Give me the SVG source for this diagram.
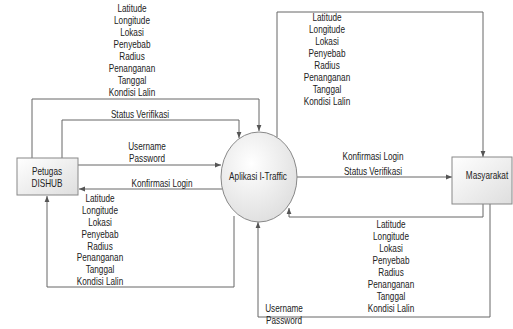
<svg xmlns="http://www.w3.org/2000/svg" width="513" height="329" viewBox="0 0 513 329">
<defs>
<linearGradient id="gbox" x1="0" y1="0" x2="1" y2="1">
<stop offset="0" stop-color="#ffffff"/>
<stop offset="1" stop-color="#dedede"/>
</linearGradient>
<radialGradient id="gell" cx="0.4" cy="0.35" r="0.75">
<stop offset="0" stop-color="#ffffff"/>
<stop offset="1" stop-color="#dcdcdc"/>
</radialGradient>
<marker id="arr" viewBox="0 0 10 10" refX="10" refY="5" markerWidth="6" markerHeight="6" orient="auto" markerUnits="userSpaceOnUse">
<path d="M0,1 L10,5 L0,9 Z" fill="#555"/>
</marker>
</defs>
<style>
.t{font-family:"Liberation Sans",Arial,sans-serif;font-size:10px;fill:#222;text-anchor:middle}
.c{fill:none;stroke:#666;stroke-width:1}
.n{stroke:#888;stroke-width:1}
</style>
<rect width="513" height="329" fill="#fff"/>
<g id="connectors">
<polyline class="c" points="32,158 32,99 259,99 259,131" marker-end="url(#arr)"/>
<polyline class="c" points="62,158 62,120 239,120 239,138" marker-end="url(#arr)"/>
<polyline class="c" points="78,165 221,165" marker-end="url(#arr)"/>
<polyline class="c" points="222,189 79,189" marker-end="url(#arr)"/>
<polyline class="c" points="234,216 234,287 47,287 47,196" marker-end="url(#arr)"/>
<polyline class="c" points="277,137 277,12 483,12 483,157" marker-end="url(#arr)"/>
<polyline class="c" points="297,177 452,177" marker-end="url(#arr)"/>
<polyline class="c" points="483,204 483,217 289,217 289,208" marker-end="url(#arr)"/>
<polyline class="c" points="490,204 490,317 258,317 258,222" marker-end="url(#arr)"/>
<g transform="translate(132,0) scale(0.82,1)"><text class="t"><tspan x="0" y="12">Latitude</tspan><tspan x="0" dy="12">Longitude</tspan><tspan x="0" dy="12">Lokasi</tspan><tspan x="0" dy="12">Penyebab</tspan><tspan x="0" dy="12">Radius</tspan><tspan x="0" dy="12">Penanganan</tspan><tspan x="0" dy="12">Tanggal</tspan><tspan x="0" dy="12">Kondisi Lalin</tspan></text></g>
<g transform="translate(140,0) scale(0.82,1)"><text class="t" x="0" y="118">Status Verifikasi</text></g>
<g transform="translate(147,0) scale(0.82,1)"><text class="t"><tspan x="0" y="150">Username</tspan><tspan x="0" dy="12.5">Password</tspan></text></g>
<g transform="translate(162,0) scale(0.82,1)"><text class="t" x="0" y="187">Konfirmasi Login</text></g>
<g transform="translate(100,0) scale(0.82,1)"><text class="t"><tspan x="0" y="202">Latitude</tspan><tspan x="0" dy="11.9">Longitude</tspan><tspan x="0" dy="11.9">Lokasi</tspan><tspan x="0" dy="11.9">Penyebab</tspan><tspan x="0" dy="11.9">Radius</tspan><tspan x="0" dy="11.9">Penanganan</tspan><tspan x="0" dy="11.9">Tanggal</tspan><tspan x="0" dy="11.9">Kondisi Lalin</tspan></text></g>
<g transform="translate(327,0) scale(0.82,1)"><text class="t"><tspan x="0" y="21.3">Latitude</tspan><tspan x="0" dy="11.93">Longitude</tspan><tspan x="0" dy="11.93">Lokasi</tspan><tspan x="0" dy="11.93">Penyebab</tspan><tspan x="0" dy="11.93">Radius</tspan><tspan x="0" dy="11.93">Penanganan</tspan><tspan x="0" dy="11.93">Tanggal</tspan><tspan x="0" dy="11.93">Kondisi Lalin</tspan></text></g>
<g transform="translate(373,0) scale(0.82,1)"><text class="t"><tspan x="0" y="160">Konfirmasi Login</tspan><tspan x="0" dy="15">Status Verifikasi</tspan></text></g>
<g transform="translate(391,0) scale(0.82,1)"><text class="t"><tspan x="0" y="228">Latitude</tspan><tspan x="0" dy="11.95">Longitude</tspan><tspan x="0" dy="11.95">Lokasi</tspan><tspan x="0" dy="11.95">Penyebab</tspan><tspan x="0" dy="11.95">Radius</tspan><tspan x="0" dy="11.95">Penanganan</tspan><tspan x="0" dy="11.95">Tanggal</tspan><tspan x="0" dy="11.95">Kondisi Lalin</tspan></text></g>
<g transform="translate(284,0) scale(0.82,1)"><text class="t"><tspan x="0" y="312">Username</tspan><tspan x="0" dy="11.8">Password</tspan></text></g>
</g>
<g id="petugas">
<rect class="n" x="17" y="158" width="61" height="37" fill="url(#gbox)"/>
<g transform="translate(47,0) scale(0.82,1)"><text class="t"><tspan x="0" y="175">Petugas</tspan><tspan x="0" dy="11.7">DISHUB</tspan></text></g>
</g>
<g id="aplikasi">
<ellipse class="n" cx="259" cy="177" rx="38" ry="45" fill="url(#gell)"/>
<g transform="translate(258,0) scale(0.82,1)"><text class="t" x="0" y="180">Aplikasi I-Traffic</text></g>
</g>
<g id="masyarakat">
<rect class="n" x="452" y="157" width="60" height="47" fill="url(#gbox)"/>
<g transform="translate(487,0) scale(0.82,1)"><text class="t" x="0" y="179.5">Masyarakat</text></g>
</g>
</svg>
